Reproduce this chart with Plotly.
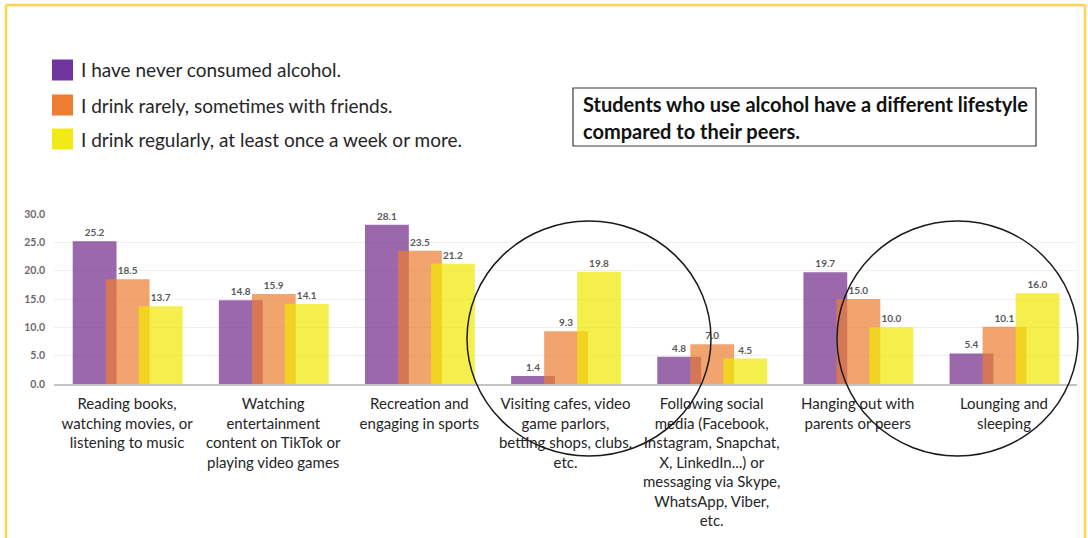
import plotly.graph_objects as go

W, H = 1088, 538

categories = [
    "Reading books,<br>watching movies, or<br>listening to music",
    "Watching<br>entertainment<br>content on TikTok or<br>playing video games",
    "Recreation and<br>engaging in sports",
    "Visiting cafes, video<br>game parlors,<br>betting shops, clubs,<br>etc.",
    "Following social<br>media (Facebook,<br>Instagram, Snapchat,<br>X, LinkedIn...) or<br>messaging via Skype,<br>WhatsApp, Viber,<br>etc.",
    "Hanging out with<br>parents or peers",
    "Lounging and<br>sleeping",
]

series_names = [
    "I have never consumed alcohol.",
    "I drink rarely, sometimes with friends.",
    "I drink regularly, at least once a week or more.",
]

never_consumed = [25.2, 14.8, 28.1, 1.4, 4.8, 19.7, 5.4]
drink_rarely = [18.5, 15.9, 23.5, 9.3, 7.0, 15.0, 10.1]
drink_regularly = [13.7, 14.1, 21.2, 19.8, 4.5, 10.0, 16.0]

y_ticks = [0, 5, 10, 15, 20, 25, 30]

headline = [
    "Students who use alcohol have a different lifestyle",
    "compared to their peers.",
]

FONT = "Lato"
bar_fill = ["rgba(112,42,136,0.70)", "rgba(237,125,49,0.70)", "rgba(240,232,0,0.70)"]
legend_fill = ["#7135A0", "#ED7D31", "#F2EA17"]
offsets = [-0.372, -0.146, 0.080]
bar_width = 0.30

fig = go.Figure()
for name, vals, fill, off in zip(series_names,
                                 [never_consumed, drink_rarely, drink_regularly],
                                 bar_fill, offsets):
    fig.add_trace(go.Bar(
        x=categories, y=vals, name=name,
        offset=off, width=bar_width,
        marker=dict(color=fill, line=dict(width=0)),
        texttemplate="%{y:.1f}", textposition="outside",
        textfont=dict(family=FONT, size=10, color="#595959", weight="bold"),
        cliponaxis=False, showlegend=False,
    ))


def px_x(p):
    return p / W


def px_y(p):
    return 1 - p / H


shapes = []
annotations = []

# legend swatches and labels
legend_rows = [70, 105, 139]
for name, col, cy in zip(series_names, legend_fill, legend_rows):
    shapes.append(dict(type="rect", xref="paper", yref="paper",
                       x0=px_x(52), x1=px_x(73), y0=px_y(cy + 10.5), y1=px_y(cy - 10.5),
                       fillcolor=col, line=dict(width=0)))
    annotations.append(dict(xref="paper", yref="paper", x=px_x(79), y=px_y(cy),
                            xanchor="left", yanchor="middle", showarrow=False,
                            text=name, font=dict(family=FONT, size=19, color="#262626")))

# headline box
shapes.append(dict(type="rect", xref="paper", yref="paper",
                   x0=px_x(573), x1=px_x(1036), y0=px_y(146), y1=px_y(88),
                   line=dict(color="#3a3a3a", width=1.2), fillcolor="rgba(0,0,0,0)"))
for line, cy in zip(headline, [104.5, 131]):
    annotations.append(dict(xref="paper", yref="paper", x=px_x(581), y=px_y(cy),
                            xanchor="left", yanchor="middle", showarrow=False,
                            text=line, font=dict(family=FONT, size=20, color="#111111",
                                                 weight="bold")))

# highlight circles
for x0, x1 in [(467, 711), (837, 1078)]:
    shapes.append(dict(type="circle", xref="paper", yref="paper",
                       x0=px_x(x0), x1=px_x(x1), y0=px_y(456), y1=px_y(221),
                       line=dict(color="#1a1a1a", width=1.5)))

# page frame
frame = "#FFD24F"
shapes += [
    dict(type="line", xref="paper", yref="paper", x0=px_x(6), x1=px_x(6),
         y0=0, y1=px_y(5), line=dict(color=frame, width=2.5)),
    dict(type="line", xref="paper", yref="paper", x0=px_x(6), x1=px_x(1085),
         y0=px_y(5), y1=px_y(5), line=dict(color=frame, width=2.5)),
    dict(type="line", xref="paper", yref="paper", x0=px_x(1085), x1=px_x(1085),
         y0=0, y1=px_y(5), line=dict(color=frame, width=2.5)),
]

fig.update_layout(
    width=W, height=H,
    margin=dict(l=0, r=0, t=0, b=0),
    paper_bgcolor="white", plot_bgcolor="white",
    barmode="overlay",
    shapes=shapes, annotations=annotations,
    xaxis=dict(domain=[px_x(54), px_x(1077)], showgrid=False, automargin=False,
               showline=True, linecolor="#c4c4c4", linewidth=2,
               ticks="", tickfont=dict(family=FONT, size=15, color="#262626"),
               ticklabelstandoff=5),
    yaxis=dict(domain=[px_y(384), px_y(214)], range=[0, 30], automargin=False,
               tickvals=y_ticks, tickformat=".1f",
               showgrid=True, gridcolor="#efefef", gridwidth=1,
               zeroline=False, showline=False, ticks="",
               tickfont=dict(family=FONT, size=10.5, color="#6b6b6b", weight="bold"),
               ticklabelstandoff=8),
)

fig.write_html("out.html")
